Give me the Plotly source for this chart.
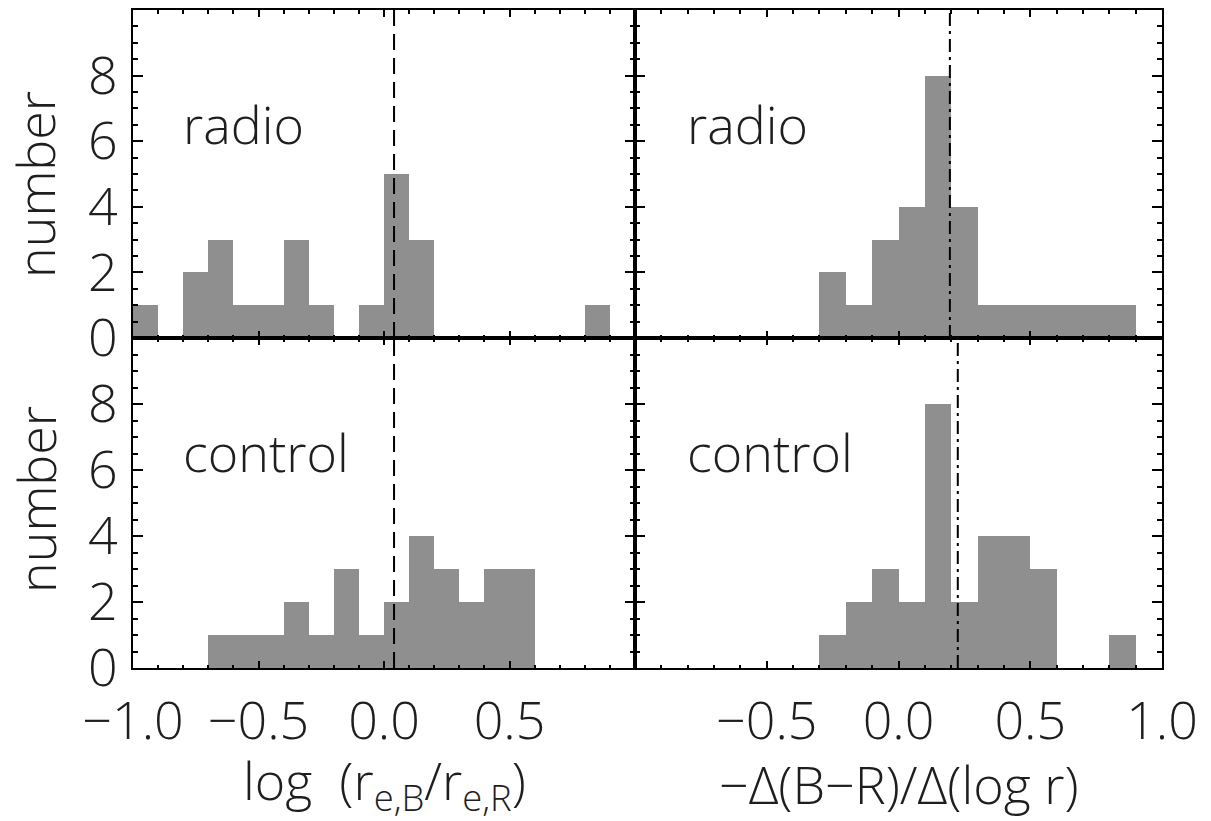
import plotly.graph_objects as go

# ---------------- data ----------------
bin_centers = [-0.95, -0.85, -0.75, -0.65, -0.55, -0.45, -0.35, -0.25, -0.15, -0.05,
               0.05, 0.15, 0.25, 0.35, 0.45, 0.55, 0.65, 0.75, 0.85, 0.95]
bin_width = 0.1

radio_log_ratio = [1, 0, 2, 3, 1, 1, 3, 1, 0, 1, 5, 3, 0, 0, 0, 0, 0, 0, 1, 0]
control_log_ratio = [0, 0, 0, 1, 1, 1, 2, 1, 3, 1, 2, 4, 3, 2, 3, 3, 0, 0, 0, 0]
radio_color_grad = [0, 0, 0, 0, 0, 0, 0, 2, 1, 3, 4, 8, 4, 1, 1, 1, 1, 1, 1, 0]
control_color_grad = [0, 0, 0, 0, 0, 0, 0, 1, 2, 3, 2, 8, 2, 4, 4, 3, 0, 0, 1, 0]

median_log_ratio_radio = 0.04
median_log_ratio_control = 0.04
median_color_grad_radio = 0.195
median_color_grad_control = 0.225

y_tickvals = [0, 2, 4, 6, 8]
y_ticktext = ["0", "2", "4", "6", "8"]
x_left_tickvals = [-1.0, -0.5, 0.0, 0.5]
x_left_ticktext = ["\u22121.0", "\u22120.5", "0.0", "0.5"]
x_right_tickvals = [-0.5, 0.0, 0.5, 1.0]
x_right_ticktext = ["\u22120.5", "0.0", "0.5", "1.0"]

panel_labels = ["radio", "radio", "control", "control"]
x_titles = ["log  (r<sub>e,B</sub>/r<sub>e,R</sub>)", "\u2212\u0394(B\u2212R)/\u0394(log r)"]
y_title = "number"

# ---------------- layout ----------------
OFF = 8                      # default page body margin
W, H = 1211 - OFF, 821 - OFF
FONT = "Open Sans"
FW = 300
FS = 52
TXT = "#1e1e1e"
BAR = "#8f8f8f"

def px_x(p):
    return (p - OFF) / W

def px_y(p):
    return 1 - (p - OFF) / H

xdom_left = [px_x(133), px_x(635)]
xdom_right = [px_x(635), px_x(1162)]
ydom_top = [px_y(338), px_y(10)]
ydom_bot = [px_y(668), px_y(338)]

fig = go.Figure()

panels = [
    ("x", "y", radio_log_ratio, median_log_ratio_radio, "dash"),
    ("x2", "y2", radio_color_grad, median_color_grad_radio, "dashdot"),
    ("x3", "y3", control_log_ratio, median_log_ratio_control, "dash"),
    ("x4", "y4", control_color_grad, median_color_grad_control, "dashdot"),
]
dash_styles = {"dash": "16px,8px", "dashdot": "13px,5px,3px,5px"}

def tfont(size=FS):
    return dict(family=FONT, size=size, color=TXT, weight=FW)

for i, (xa, ya, counts, med, style) in enumerate(panels):
    fig.add_trace(go.Bar(x=bin_centers, y=counts, width=[bin_width] * len(bin_centers),
                         marker=dict(color=BAR, line=dict(width=0)),
                         xaxis=xa, yaxis=ya, showlegend=False, hoverinfo="x+y"))
    fig.add_trace(go.Scatter(x=[med, med], y=[0, 10], mode="lines",
                             line=dict(color="black", width=2, dash=dash_styles[style]),
                             xaxis=xa, yaxis=ya, showlegend=False, hoverinfo="skip"))
    fig.add_annotation(x=-0.81, y=6.55, xref=xa, yref=ya, text=panel_labels[i],
                       showarrow=False, xanchor="left", yanchor="middle",
                       font=tfont())

def xaxis(dom, anchor, tickvals, ticktext, show):
    return dict(domain=dom, anchor=anchor, range=[-1.0, 1.0], showgrid=False, zeroline=False,
                automargin=False,
                showline=True, linecolor="black", linewidth=2, mirror="ticks",
                ticks="inside", ticklen=7, tickwidth=2, tickcolor="black",
                tickvals=tickvals, ticktext=ticktext, showticklabels=show,
                tickfont=tfont(), ticklabelstandoff=7,
                minor=dict(dtick=0.1, tick0=0, ticks="inside", ticklen=3.5, tickwidth=2,
                           tickcolor="black", showgrid=False))

def yaxis(dom, anchor, show):
    return dict(domain=dom, anchor=anchor, range=[0, 10], showgrid=False, zeroline=False,
                automargin=False,
                showline=True, linecolor="black", linewidth=2, mirror="ticks",
                ticks="inside", ticklen=10, tickwidth=2, tickcolor="black",
                tickvals=y_tickvals, ticktext=y_ticktext, showticklabels=show,
                tickfont=tfont(), ticklabelstandoff=3,
                minor=dict(dtick=0.5, tick0=0, ticks="inside", ticklen=5, tickwidth=2,
                           tickcolor="black", showgrid=False))

fig.update_layout(
    width=W, height=H, autosize=False,
    margin=dict(l=0, r=0, t=0, b=0, autoexpand=False),
    paper_bgcolor="white", plot_bgcolor="white",
    bargap=0, barmode="overlay",
    xaxis=xaxis(xdom_left, "y", x_left_tickvals, x_left_ticktext, False),
    xaxis2=xaxis(xdom_right, "y2", x_right_tickvals, x_right_ticktext, False),
    xaxis3=xaxis(xdom_left, "y3", x_left_tickvals, x_left_ticktext, True),
    xaxis4=xaxis(xdom_right, "y4", x_right_tickvals, x_right_ticktext, True),
    yaxis=yaxis(ydom_top, "x", True),
    yaxis2=yaxis(ydom_top, "x2", False),
    yaxis3=yaxis(ydom_bot, "x3", True),
    yaxis4=yaxis(ydom_bot, "x4", False),
)

# axis titles
fig.add_annotation(x=(xdom_left[0] + xdom_left[1]) / 2, y=px_y(783), xref="paper", yref="paper",
                   text=x_titles[0], showarrow=False, xanchor="center", yanchor="middle",
                   font=tfont())
fig.add_annotation(x=(xdom_right[0] + xdom_right[1]) / 2, y=px_y(783), xref="paper", yref="paper",
                   text=x_titles[1], showarrow=False, xanchor="center", yanchor="middle",
                   font=tfont())
for yc in (185, 500):
    fig.add_annotation(x=px_x(35), y=px_y(yc), xref="paper", yref="paper", text=y_title,
                       textangle=-90, showarrow=False, xanchor="center", yanchor="middle",
                       font=tfont())

fig.write_html("out.html")
